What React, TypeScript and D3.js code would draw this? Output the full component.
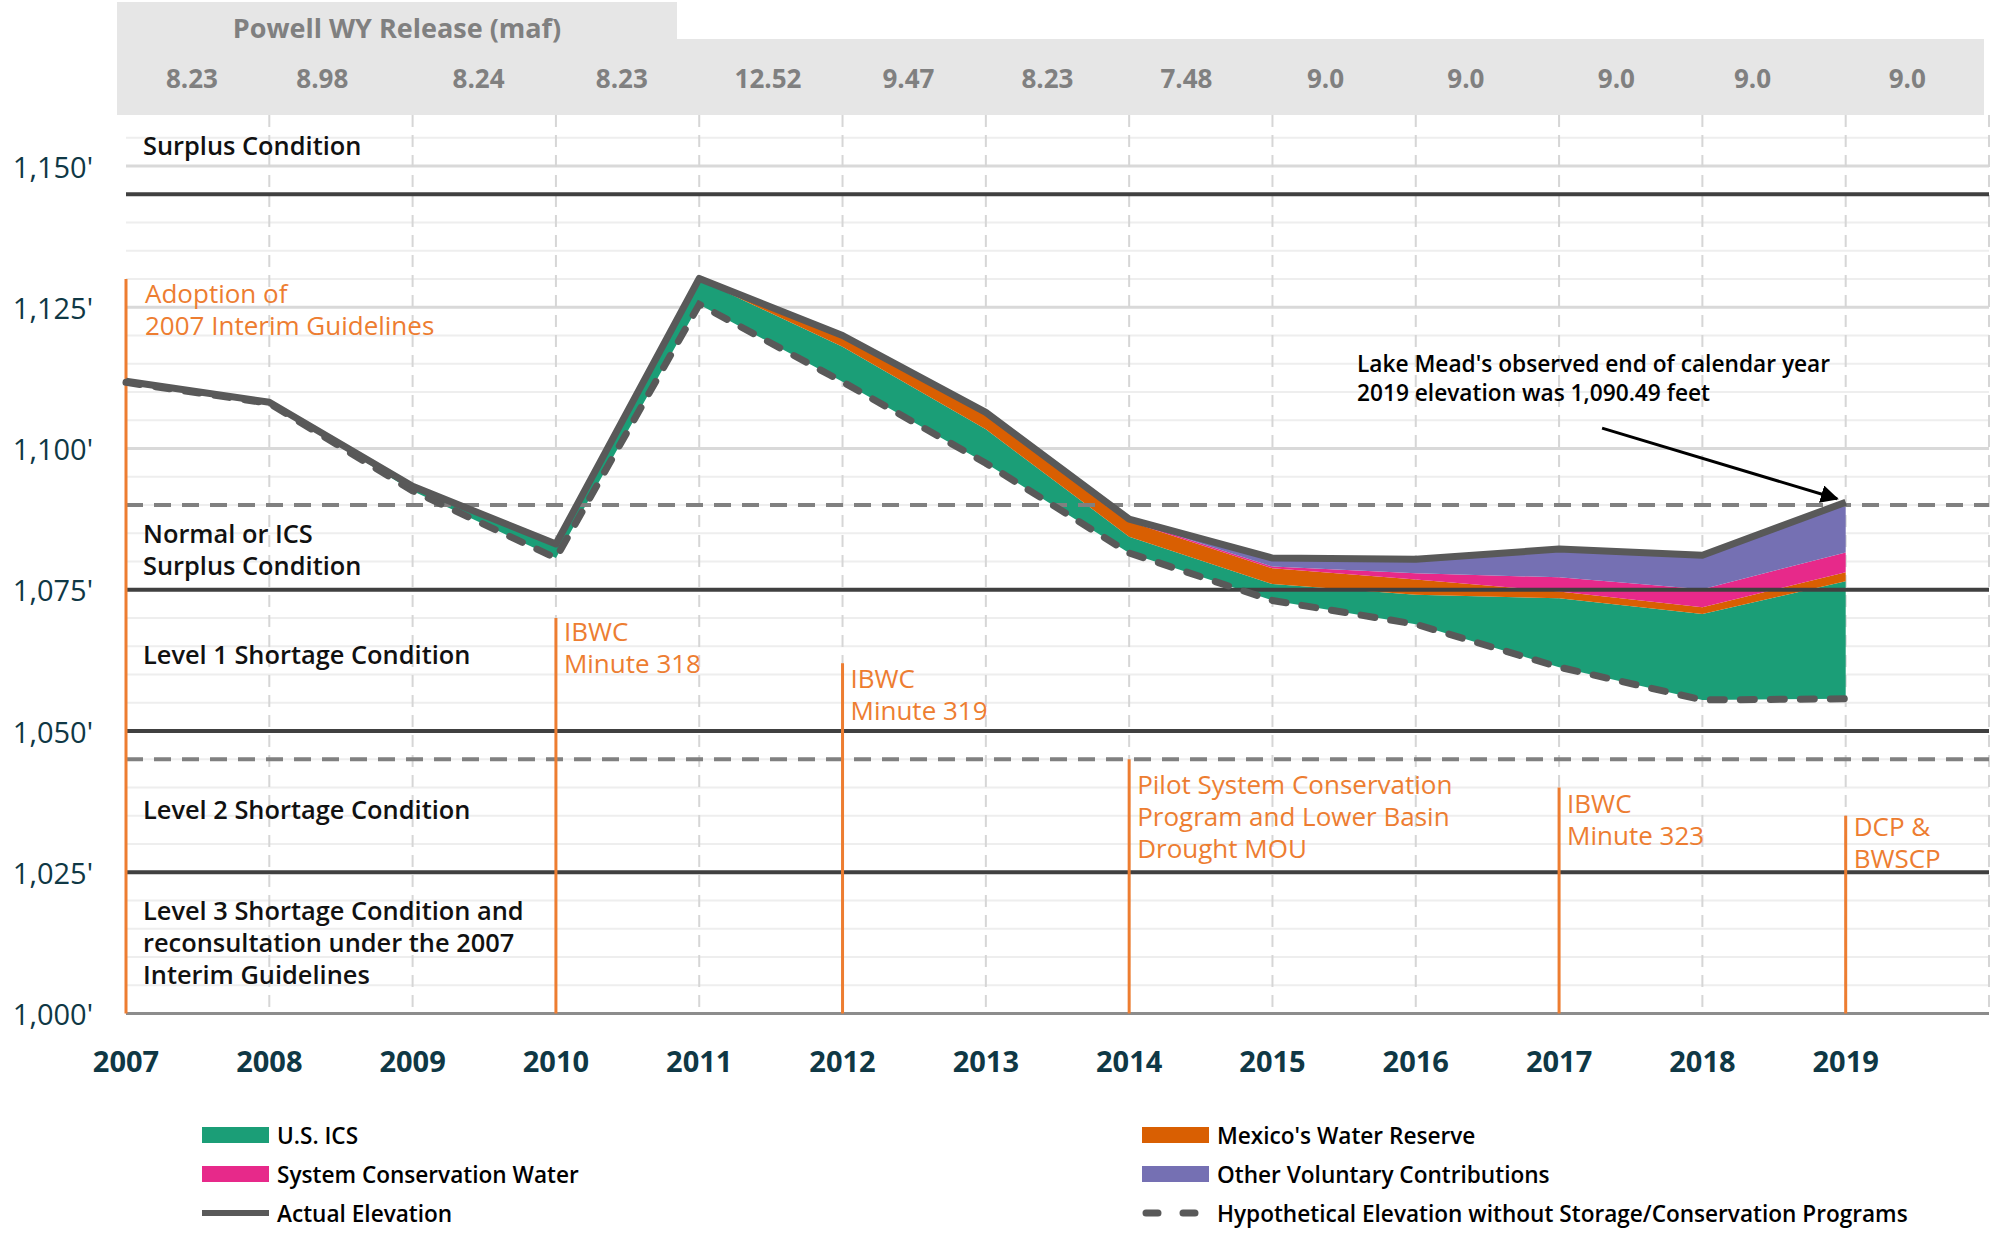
import * as d3 from 'd3';
import React from 'react';

// Lake Mead end-of-calendar-year elevations (feet)
const years = [2007, 2008, 2009, 2010, 2011, 2012, 2013, 2014, 2015, 2016, 2017, 2018, 2019];
const actualElevation = [1111.9, 1108.2, 1093.3, 1083.1, 1130.1, 1120.0, 1106.4, 1087.5, 1080.6, 1080.4, 1082.2, 1081.1, 1090.49];
const hypotheticalElevation = [1111.7, 1108.0, 1092.5, 1080.6, 1125.5, 1111.8, 1097.4, 1081.5, 1073.1, 1068.9, 1061.3, 1055.5, 1055.7];

// feet of elevation contributed by each program, stacked on the hypothetical line
const usICS = [0.2, 0.2, 0.8, 2.5, 4.4, 6.2, 6.0, 2.9, 2.9, 5.2, 12.2, 15.2, 20.8];
const mexicoReserve = [0, 0, 0, 0, 0.2, 2.0, 3.0, 2.7, 2.8, 2.7, 1.2, 1.2, 1.6];
const systemConservation = [0, 0, 0, 0, 0, 0, 0, 0.2, 0.3, 1.1, 2.5, 3.2, 3.5];
const otherVoluntary = [0, 0, 0, 0, 0, 0, 0, 0.2, 1.5, 2.5, 5.0, 6.0, 8.9];

const powellRelease = ['8.23', '8.98', '8.24', '8.23', '12.52', '9.47', '8.23', '7.48', '9.0', '9.0', '9.0', '9.0', '9.0'];
const powellReleaseAt = [2007.46, 2008.37, 2009.46, 2010.46, 2011.48, 2012.46, 2013.43, 2014.4, 2015.37, 2016.35, 2017.4, 2018.35, 2019.43];

const yTicks = [1000, 1025, 1050, 1075, 1100, 1125, 1150];
const thresholds = [1145, 1075, 1050, 1025];
const dashedThresholds = [1090, 1045];

const zoneLabels = [
  { lines: ['Surplus Condition'], elev: 1153.7 },
  { lines: ['Normal or ICS', 'Surplus Condition'], elev: 1085.0 },
  { lines: ['Level 1 Shortage Condition'], elev: 1063.6 },
  { lines: ['Level 2 Shortage Condition'], elev: 1036.2 },
  { lines: ['Level 3 Shortage Condition and', 'reconsultation under the 2007', 'Interim Guidelines'], elev: 1018.3 },
];

const eventYears = [2007, 2010, 2012, 2014, 2017, 2019];
const eventTops = [1130, 1070, 1062, 1045, 1040, 1035];
const eventLabelElev = [1127.6, 1067.7, 1059.4, 1040.7, 1037.3, 1033.1];
const eventLabels = [
  ['Adoption of', '2007 Interim Guidelines'],
  ['IBWC', 'Minute 318'],
  ['IBWC', 'Minute 319'],
  ['Pilot System Conservation', 'Program and Lower Basin', 'Drought MOU'],
  ['IBWC', 'Minute 323'],
  ['DCP &', 'BWSCP'],
];

const layers = [
  { name: 'U.S. ICS', values: usICS, color: '#1b9e77' },
  { name: "Mexico's Water Reserve", values: mexicoReserve, color: '#d95f02' },
  { name: 'System Conservation Water', values: systemConservation, color: '#e7298a' },
  { name: 'Other Voluntary Contributions', values: otherVoluntary, color: '#7570b3' },
];

const W = 1991;
const H = 1236;
const FONT = "'Open Sans', 'Noto Sans', sans-serif";
const ORANGE = '#ed7d31';
const LINE_GRAY = '#595959';
const TEAL = '#0f3845';

export default function App() {
  const x = d3.scaleLinear().domain([2007, 2020]).range([126, 1989]);
  const y = d3.scaleLinear().domain([1000, 1160]).range([1013.5, 109.5]);
  const plotTop = 115;

  // cumulative stacking on top of the hypothetical elevation
  const stacked = layers.map((layer, li) =>
    years.map((yr, i) => {
      const below = layers.slice(0, li).reduce((s, l) => s + l.values[i], 0);
      const y0 = hypotheticalElevation[i] + below;
      return { year: yr, y0, y1: y0 + layer.values[i] };
    }),
  );

  const area = d3
    .area<{ year: number; y0: number; y1: number }>()
    .x((d) => x(d.year))
    .y0((d) => y(d.y0))
    .y1((d) => y(d.y1));

  const line = d3
    .line<number>()
    .x((_, i) => x(years[i]))
    .y((d) => y(d));

  const minorTicks = d3.range(1005, 1160, 5).filter((v) => v % 25 !== 0);
  const gridYears = d3.range(2008, 2021);

  const legendRows = [1135, 1174, 1213];
  const legendCols = [202, 1142];

  return (
    <svg width={W} height={H} style={{ position: 'absolute', left: 0, top: 0 }} fontFamily={FONT}>
      <rect width={W} height={H} fill="#fff" />

      {/* Powell release header */}
      <rect x={117} y={2} width={560} height={40} fill="#e6e6e6" />
      <rect x={117} y={39} width={1867} height={76} fill="#e6e6e6" />
      <text x={397} y={27} textAnchor="middle" dominantBaseline="central" fontSize={27} fontWeight={700} fill="#808080">
        Powell WY Release (maf)
      </text>
      {powellRelease.map((v, i) => (
        <text
          key={`rel-${i}`}
          x={x(powellReleaseAt[i])}
          y={78}
          textAnchor="middle"
          dominantBaseline="central"
          fontSize={26}
          fontWeight={700}
          fill="#808080"
        >
          {v}
        </text>
      ))}

      {/* grid */}
      {minorTicks.map((v) => (
        <line key={`mg-${v}`} x1={x(2007)} x2={x(2020)} y1={y(v)} y2={y(v)} stroke="#eeeeee" strokeWidth={2} />
      ))}
      {yTicks.slice(1).map((v) => (
        <line key={`g-${v}`} x1={x(2007)} x2={x(2020)} y1={y(v)} y2={y(v)} stroke="#d9d9d9" strokeWidth={3} />
      ))}
      {gridYears.map((yr) => (
        <line
          key={`vg-${yr}`}
          x1={x(yr)}
          x2={x(yr)}
          y1={plotTop}
          y2={y(1000)}
          stroke="#d6d6d6"
          strokeWidth={2}
          strokeDasharray="12 8"
        />
      ))}

      {/* stacked program contributions */}
      {stacked.map((data, li) => (
        <path key={`area-${li}`} d={area(data) || ''} fill={layers[li].color} />
      ))}

      {/* operating condition thresholds */}
      {thresholds.map((v) => (
        <line key={`t-${v}`} x1={x(2007)} x2={x(2020)} y1={y(v)} y2={y(v)} stroke="#404040" strokeWidth={4} />
      ))}
      {dashedThresholds.map((v) => (
        <line
          key={`dt-${v}`}
          x1={x(2007)}
          x2={x(2020)}
          y1={y(v)}
          y2={y(v)}
          stroke="#808080"
          strokeWidth={4}
          strokeDasharray="17 11"
        />
      ))}
      <line x1={x(2007)} x2={x(2020)} y1={y(1000)} y2={y(1000)} stroke="#8c8c8c" strokeWidth={3} />

      {/* events */}
      {eventYears.map((yr, i) => (
        <g key={`ev-${yr}`}>
          <line x1={x(yr)} x2={x(yr)} y1={y(eventTops[i])} y2={y(1000)} stroke={ORANGE} strokeWidth={3} />
          {eventLabels[i].map((t, j) => (
            <text
              key={j}
              x={x(yr) + (i === 0 ? 19 : 8)}
              y={y(eventLabelElev[i]) + j * 32}
              dominantBaseline="central"
              fontSize={26}
              fill={ORANGE}
            >
              {t}
            </text>
          ))}
        </g>
      ))}

      {/* elevation lines */}
      <path
        d={line(hypotheticalElevation) || ''}
        fill="none"
        stroke={LINE_GRAY}
        strokeWidth={7}
        strokeDasharray="14 16"
        strokeLinecap="round"
      />
      <path d={line(actualElevation) || ''} fill="none" stroke={LINE_GRAY} strokeWidth={7} strokeLinejoin="round" />

      {/* zone labels */}
      {zoneLabels.map((z, i) =>
        z.lines.map((t, j) => (
          <text
            key={`z-${i}-${j}`}
            x={x(2007) + 17}
            y={y(z.elev) + j * 32}
            dominantBaseline="central"
            fontSize={25.4}
            fontWeight={600}
            fill="#111"
          >
            {t}
          </text>
        )),
      )}

      {/* annotation */}
      <defs>
        <marker id="arrow" viewBox="0 0 10 10" refX={9} refY={5} markerWidth={6} markerHeight={6} orient="auto">
          <path d="M0,0 L10,5 L0,10 z" fill="#000" />
        </marker>
      </defs>
      <text x={x(2015.59)} y={y(1115.1)} dominantBaseline="central" fontSize={22.7} fontWeight={600} fill="#000">
        Lake Mead's observed end of calendar year
      </text>
      <text x={x(2015.59)} y={y(1115.1) + 29} dominantBaseline="central" fontSize={22.7} fontWeight={600} fill="#000">
        2019 elevation was 1,090.49 feet
      </text>
      <line
        x1={x(2017.3)}
        y1={y(1103.6)}
        x2={x(2018.94)}
        y2={y(1091.1)}
        stroke="#000"
        strokeWidth={3}
        markerEnd="url(#arrow)"
      />

      {/* axes labels */}
      {yTicks.map((v) => (
        <text
          key={`yl-${v}`}
          x={93}
          y={y(v)}
          textAnchor="end"
          dominantBaseline="central"
          fontSize={29}
          fontWeight={500}
          fill={TEAL}
        >
          {d3.format(',')(v)}'
        </text>
      ))}
      {years.map((yr) => (
        <text
          key={`xl-${yr}`}
          x={x(yr)}
          y={1060}
          textAnchor="middle"
          dominantBaseline="central"
          fontSize={29}
          fontWeight={700}
          fill={TEAL}
        >
          {yr}
        </text>
      ))}

      {/* legend */}
      {layers.map((l, i) => {
        const lx = legendCols[i % 2];
        const ly = legendRows[Math.floor(i / 2)];
        return (
          <g key={`lg-${i}`}>
            <rect x={lx} y={ly - 8} width={67} height={16} fill={l.color} />
            <text x={lx + 75} y={ly} dominantBaseline="central" fontSize={22.6} fontWeight={600} fill="#000">
              {l.name}
            </text>
          </g>
        );
      })}
      <line x1={legendCols[0]} x2={legendCols[0] + 67} y1={legendRows[2]} y2={legendRows[2]} stroke={LINE_GRAY} strokeWidth={6} />
      <text x={legendCols[0] + 75} y={legendRows[2]} dominantBaseline="central" fontSize={22.6} fontWeight={600} fill="#000">
        Actual Elevation
      </text>
      <line
        x1={legendCols[1] + 4}
        x2={legendCols[1] + 67}
        y1={legendRows[2]}
        y2={legendRows[2]}
        stroke={LINE_GRAY}
        strokeWidth={7}
        strokeDasharray="12 25"
        strokeLinecap="round"
      />
      <text x={legendCols[1] + 75} y={legendRows[2]} dominantBaseline="central" fontSize={22.6} fontWeight={600} fill="#000">
        Hypothetical Elevation without Storage/Conservation Programs
      </text>
    </svg>
  );
}
